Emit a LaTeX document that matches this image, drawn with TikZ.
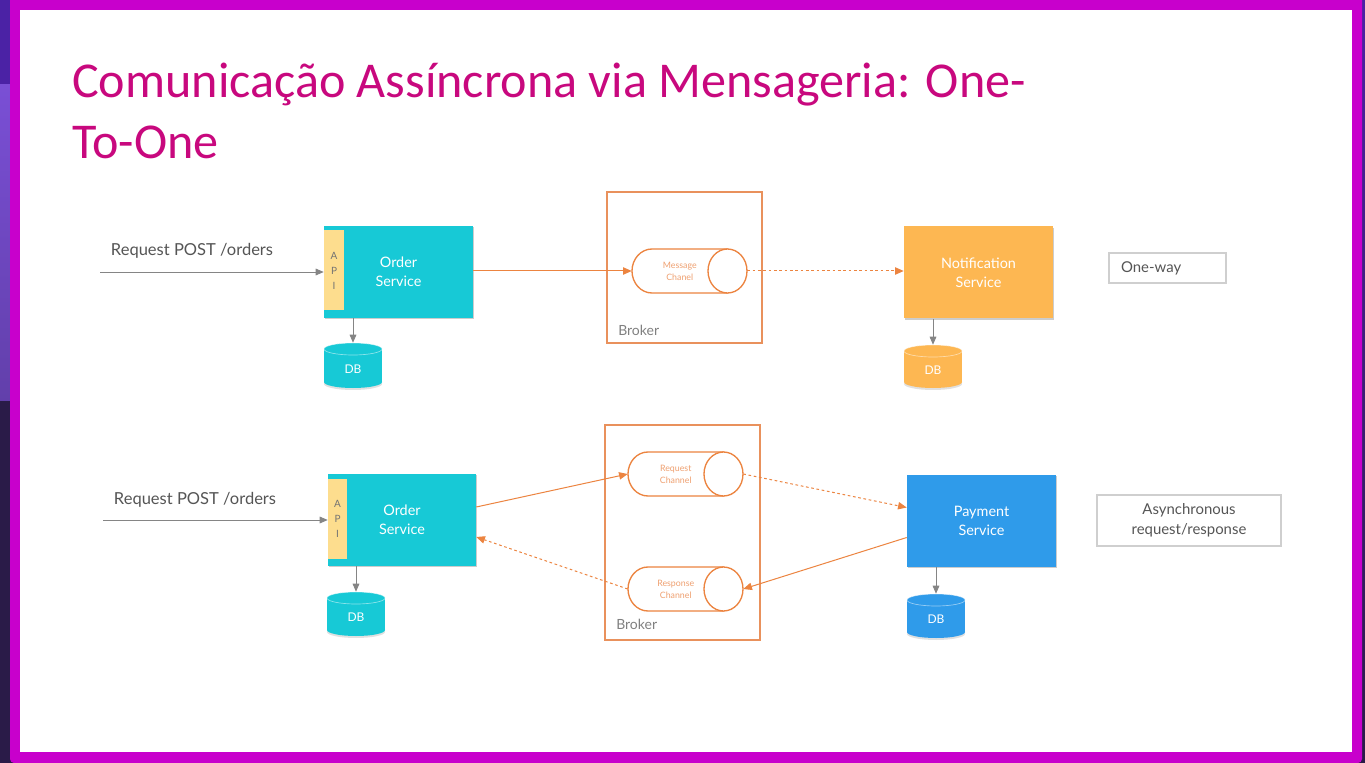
\documentclass[tikz,border=0pt]{standalone}
\usepackage{fontspec}
\setmainfont{Lato}
\newfontfamily\titlefont{Carlito}
\usetikzlibrary{arrows.meta,calc,shadows}
\definecolor{framemag}{HTML}{C800CC}
\definecolor{bgdark}{HTML}{2A1B48}
\definecolor{bgtop}{HTML}{4B22A5}
\definecolor{bgpurple}{HTML}{7A4FD5}
\definecolor{titlecol}{HTML}{C8087E}
\definecolor{cyanbox}{HTML}{17C9D6}
\definecolor{apiyel}{HTML}{FDDD8E}
\definecolor{notifor}{HTML}{FDB752}
\definecolor{payblue}{HTML}{2F9BEA}
\definecolor{orline}{HTML}{EC8440}
\definecolor{brokerc}{HTML}{E9915C}
\definecolor{chtext}{HTML}{EFA070}
\definecolor{graytext}{HTML}{555555}
\definecolor{grayline}{HTML}{858585}
\definecolor{lightbox}{HTML}{CFCFCF}
\newcommand\chanshape[5]{%
  \node[chanhold] (#1) at ({(#2+#3)/2},#4) {};
  \filldraw[fill=white, draw=orline, line width=1pt] ({#3-19.5},{#4-22}) -- ({#2+20},{#4-22}) arc[start angle=270,end angle=90,x radius=20,y radius=22] -- ({#3-19.5},{#4+22}) -- cycle;
  \filldraw[fill=white, draw=orline, line width=1pt] ({#3-19.5},#4) ellipse[x radius=19.5, y radius=22];
  \node[chantext] at ({(#2+#3-19.5)/2},#4) {#5};
}
\newcommand\dbcyl[5]{%
  \fill[black, opacity=0.12] (#2,{#4-4}) ellipse[x radius=29,y radius=6];
  \fill[#5] ({#2-29},{#3+6}) rectangle ({#2+29},{#4-6});
  \fill[#5] (#2,{#4-6}) ellipse[x radius=29,y radius=6];
  \fill[#5] (#2,{#3+6}) ellipse[x radius=29,y radius=6];
  \draw[white, opacity=0.5, line width=0.5pt] (#2,{#3+6}) ellipse[x radius=29,y radius=6];
  \node[inner sep=0pt, minimum width=43.5pt, minimum height={(#4-#3)*0.75pt}] (#1) at (#2,{(#3+#4)/2}) {};
  \node[dbtext] at (#2,{(#3+#4)/2+3.5}) {DB};
}
\tikzset{
  svcbox/.style={rectangle, inner sep=0pt, text=white, align=center,
     font=\fontsize{10.8}{14.25}\selectfont, minimum width=111.75pt, minimum height=69pt,
     drop shadow={shadow xshift=0.8pt, shadow yshift=-1pt, opacity=0.2, fill=black}},
  apibox/.style={rectangle, fill=apiyel, inner sep=0pt, minimum width=15pt, minimum height=60pt,
     text=black!55, align=center, font=\fontsize{7.5}{11.25}\selectfont},
  brokerbox/.style={rectangle, draw=brokerc, line width=1.3pt, inner sep=0pt},
  chanhold/.style={rectangle, inner sep=0pt, minimum width=86.25pt, minimum height=33pt},
  chantext/.style={text=chtext, align=center, font=\fontsize{6.6}{9}\selectfont, inner sep=0pt},
  greyarr/.style={draw=grayline, line width=0.6pt, -{Triangle[length=6pt,width=5pt]}},
  orarr/.style={draw=orline, line width=0.75pt, -{Triangle[length=6.5pt,width=5.5pt]}},
  ordash/.style={orarr, dash pattern=on 2pt off 2pt},
  reqtext/.style={text=graytext, font=\fontsize{12.4}{15}\selectfont, inner sep=0pt},
  legendbox/.style={draw=lightbox, line width=0.8pt, text=graytext, font=\fontsize{11.2}{15}\selectfont},
  brokerlbl/.style={text=black!50, anchor=west, inner sep=0pt, font=\fontsize{10.5}{12}\selectfont},
  dbtext/.style={text=white, inner sep=0pt, font=\fontsize{9}{10}\selectfont},
  titletext/.style={text=titlecol, anchor=base west, inner sep=0pt, font=\titlefont\fontsize{37.6}{45}\selectfont},
}
\begin{document}
\begin{tikzpicture}[x=0.75pt,y=-0.75pt]
\useasboundingbox (0,0) rectangle (1365,763);
% background and frame
\fill[bgdark] (0,0) rectangle (1365,763);
\fill[bgtop] (0,0) rectangle (12,85);
\shade[top color=bgpurple, bottom color=bgpurple!70!bgdark] (0,85) rectangle (12,400);
\shade[top color=bgtop, bottom color=bgdark] (1355,0) rectangle (1365,763);
\fill[framemag, rounded corners=3pt] (10,-5) rectangle (1362,763);
\fill[white] (20,10) rectangle (1352,752);
% title
\node[titletext] (title1) at (72,98) {Comunicação Assíncrona via Mensageria: One-};
\node[titletext] (title2) at (72,159) {To-One};
% ===== top row =====
\node[brokerbox, minimum width=116.25pt, minimum height=113.25pt] (broker1) at (684.5,267.5) {};
\node[brokerlbl] (brokerl1) at (618,330) {Broker};
\node[svcbox, fill=cyanbox] (os1) at (398.5,272) {Order\\Service};
\node[apibox] (api1) at (334,270.5) {A\\P\\I};
\dbcyl{db1}{353}{343}{388}{cyanbox}
\chanshape{ch1}{632}{747}{271}{Message\\Chanel}
\node[svcbox, fill=notifor] (notif) at (978.5,272.5) {Notification\\Service};
\dbcyl{db2}{933}{345}{388}{notifor}
\node[legendbox, minimum height=22.5pt, text width=69.75pt, inner xsep=9pt, align=left] (oneway) at (1167.5,268) {One-way};
\node[reqtext] (req1) at (192,251) {Request POST /orders};
\coordinate (in1) at (100,272);
% ===== bottom row =====
\node[brokerbox, minimum width=116.25pt, minimum height=161.25pt] (broker2) at (682.5,532.5) {};
\node[brokerlbl] (brokerl2) at (616,624) {Broker};
\node[svcbox, fill=cyanbox, minimum width=111pt] (os2) at (402,520) {Order\\Service};
\node[apibox, minimum width=14.25pt] (api2) at (337.5,519) {A\\P\\I};
\dbcyl{db3}{356}{592}{636}{cyanbox}
\chanshape{rch}{628}{743}{474}{Request\\Channel}
\chanshape{sch}{628}{743}{589}{Response\\Channel}
\node[svcbox, fill=payblue] (pay) at (981.5,520.5) {Payment\\Service};
\dbcyl{db4}{936}{594}{638}{payblue}
\node[legendbox, minimum width=138pt, minimum height=38.25pt, align=center] (async) at (1189,520.5) {Asynchronous\\request/response};
\node[reqtext] (req2) at (195,500) {Request POST /orders};
\coordinate (in2) at (103,520);
% ===== connectors =====
\draw[greyarr] (in1) -- (in1 -| os1.west);
\draw[greyarr] (os1.south -| db1.north) -- (db1.north);
\draw[orarr] (os1.east |- ch1.west) -- (ch1.west);
\draw[ordash] (ch1.east) -- (ch1.east -| notif.west);
\draw[greyarr] (notif.south -| db2.north) -- (db2.north);
\draw[greyarr] (in2) -- (in2 -| os2.west);
\draw[greyarr] (os2.south -| db3.north) -- (db3.north);
\draw[orarr] ($(os2.east)+(0,-13)$) -- (rch.west);
\draw[ordash] (sch.west) -- ($(os2.east)+(0,17)$);
\draw[ordash] (rch.east) -- ($(pay.west)+(0,-13)$);
\draw[orarr] ($(pay.west)+(0,17)$) -- (sch.east);
\draw[greyarr] (pay.south -| db4.north) -- (db4.north);
\end{tikzpicture}
\end{document}
